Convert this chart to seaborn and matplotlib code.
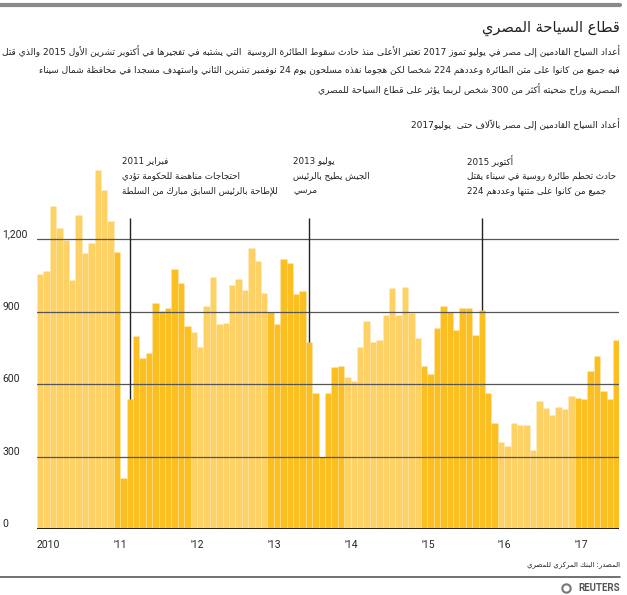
import re
import numpy as np
import pandas as pd
import matplotlib
matplotlib.use('Agg')
from matplotlib import pyplot as plt
from matplotlib.lines import Line2D
import seaborn as sns

# monthly tourist arrivals to Egypt, thousands (Jan 2010 - Jul 2017)
y2010 = [1055, 1070, 1340, 1247, 1199, 1031, 1303, 1144, 1185, 1488, 1406, 1276]
y2011 = [1150, 210, 538, 800, 708, 731, 936, 905, 915, 1079, 1019, 840]
y2012 = [818, 753, 926, 1046, 851, 853, 1010, 1037, 992, 1164, 1110, 979]
y2013 = [900, 851, 1119, 1102, 975, 986, 777, 563, 297, 563, 673, 676]
y2014 = [630, 612, 756, 860, 777, 784, 888, 998, 888, 1005, 895, 790]
y2015 = [677, 642, 835, 925, 901, 823, 915, 915, 805, 908, 563, 440]
y2016 = [362, 346, 440, 429, 430, 327, 529, 500, 472, 504, 497, 550]
y2017 = [541, 539, 656, 716, 572, 537, 782]
values = y2010 + y2011 + y2012 + y2013 + y2014 + y2015 + y2016 + y2017

year_labels = ['2010', "'11", "'12", "'13", "'14", "'15", "'16", "'17"]
ytick_vals = [0, 300, 600, 900, 1200]
ytick_labels = ['0', '300', '600', '900', '1,200']

title = 'قطاع السياحة المصري'
intro = ['أعداد السياح القادمين إلى مصر في يوليو تموز 2017 تعتبر الأعلى منذ حادث سقوط الطائرة الروسية  التي يشتبه في تفجيرها في أكتوبر تشرين الأول 2015 والذي قتل',
         'فيه جميع من كانوا على متن الطائرة وعددهم 224 شخصا لكن هجوما نفذه مسلحون يوم 24 نوفمبر تشرين الثاني واستهدف مسجدا في محافظة شمال سيناء',
         'المصرية وراح ضحيته أكثر من 300 شخص لربما يؤثر على قطاع السياحة للمصري']
unit_label = 'أعداد السياح القادمين إلى مصر بالآلاف حتى  يوليو2017'
source = 'المصدر: البنك المركزي للمصري'

# annotated months (index from Jan 2010) and their notes
event_month = [14, 42, 69]
event_notes = [['فبراير 2011', 'احتجاجات مناهضة للحكومة تؤدي', 'للإطاحة بالرئيس السابق مبارك من السلطة'],
               ['يوليو 2013', 'الجيش يطيح بالرئيس', 'مرسي'],
               ['أكتوبر 2015', 'حادث تحطم طائرة روسية في سيناء يقتل', 'جميع من كانوا على متنها وعددهم 224']]

LIGHT = '#FDD163'
DARK = '#FBBF22'

# --- tiny arabic shaping + right-to-left ordering (matplotlib does no shaping) ---
DUAL = {'ئ': 0xFE89, 'ب': 0xFE8F, 'ت': 0xFE95, 'ث': 0xFE99, 'ج': 0xFE9D, 'ح': 0xFEA1, 'خ': 0xFEA5,
        'س': 0xFEB1, 'ش': 0xFEB5, 'ص': 0xFEB9, 'ض': 0xFEBD, 'ط': 0xFEC1, 'ظ': 0xFEC5, 'ع': 0xFEC9,
        'غ': 0xFECD, 'ف': 0xFED1, 'ق': 0xFED5, 'ك': 0xFED9, 'ل': 0xFEDD, 'م': 0xFEE1, 'ن': 0xFEE5,
        'ه': 0xFEE9, 'ي': 0xFEF1}
RIGHT = {'آ': 0xFE81, 'أ': 0xFE83, 'ؤ': 0xFE85, 'إ': 0xFE87, 'ا': 0xFE8D, 'ة': 0xFE93, 'د': 0xFEA9,
         'ذ': 0xFEAB, 'ر': 0xFEAD, 'ز': 0xFEAF, 'و': 0xFEED, 'ى': 0xFEEF,
         '\uE001': 0xFEF5, '\uE002': 0xFEF7, '\uE003': 0xFEF9, '\uE004': 0xFEFB}
LAM_ALEF = {'آ': '\uE001', 'أ': '\uE002', 'إ': '\uE003', 'ا': '\uE004'}


def shape(s):
    chars = []
    i = 0
    while i < len(s):
        if s[i] == 'ل' and i + 1 < len(s) and s[i + 1] in LAM_ALEF:
            chars.append(LAM_ALEF[s[i + 1]])
            i += 2
        else:
            chars.append(s[i])
            i += 1
    out = []
    for i, c in enumerate(chars):
        prev = chars[i - 1] if i > 0 else ''
        nxt = chars[i + 1] if i + 1 < len(chars) else ''
        jp = prev in DUAL
        if c in DUAL:
            jn = nxt in DUAL or nxt in RIGHT
            k = 3 if (jp and jn) else 1 if jp else 2 if jn else 0
            out.append(chr(DUAL[c] + k))
        elif c in RIGHT:
            out.append(chr(RIGHT[c] + (1 if jp else 0)))
        else:
            out.append(c)
    return ''.join(out)


def ar(s):
    parts = re.split(r'([0-9][0-9,.]*)', shape(s))
    parts = [p if re.match(r'[0-9]', p) else p[::-1] for p in parts if p]
    return ''.join(parts[::-1])


df = pd.DataFrame({'month': range(len(values)), 'value': values})
df['shade'] = ['a' if (m // 12) % 2 == 0 else 'b' for m in df['month']]

sns.set_style('white')
plt.rcParams['font.family'] = ['DejaVu Sans']

fig = plt.figure(figsize=(6.27, 5.95), dpi=100)
ax = fig.add_axes([37 / 627, 66 / 595, 582.4 / 627, 374 / 595])

sns.barplot(data=df, x='month', y='value', hue='shade', palette={'a': LIGHT, 'b': DARK},
            dodge=False, width=1, errorbar=None, legend=False, saturation=1,
            edgecolor=(1, 1, 1, 0.2), linewidth=0.5, ax=ax)

ax.set_xlim(-0.5, len(values) - 0.5)
ax.set_ylim(0, 1550)
sns.despine(ax=ax, left=True, bottom=True)
ax.set_xlabel('')
ax.set_ylabel('')

for v in ytick_vals[1:]:
    ax.axhline(v, color='#555555', lw=0.9, zorder=3)
ax.axhline(0, color='black', lw=1.2, zorder=5)

ax.set_yticks(ytick_vals)
ax.set_yticklabels(ytick_labels)
ax.tick_params(axis='y', length=0, pad=25)
for lbl in ax.get_yticklabels():
    lbl.set_ha('left')
    lbl.set_va('bottom')
    lbl.set_fontfamily('Roboto')
    lbl.set_fontsize(7.5)

ax.set_xticks(np.arange(0, len(values), 12) - 0.5)
ax.set_xticklabels(year_labels)
ax.tick_params(axis='x', length=0, pad=8)
for lbl in ax.get_xticklabels():
    lbl.set_ha('left')
    lbl.set_fontfamily('Roboto')
    lbl.set_fontsize(7.5)

# event markers and notes
note_x = [12.8, 39.5, 66.7]
for m, notes, tx in zip(event_month, event_notes, note_x):
    ax.vlines(m, values[m], 1290, color='#222222', lw=1, zorder=4)
    for j, line in enumerate(notes):
        ax.text(tx, 1525 - 62 * j, ar(line), ha='left', va='center', fontsize=6.3,
                color='#222222', clip_on=False)

# header / footer
fig.add_artist(Line2D([0, 620 / 627], [1 - 5 / 595] * 2, color='#8a8a8a', lw=3))
fig.text(620 / 627, 1 - 28 / 595, ar(title), ha='right', va='center', fontsize=10.5, color='#222222')
for j, line in enumerate(intro):
    fig.text(620 / 627, 1 - (52 + 18.5 * j) / 595, ar(line), ha='right', va='center',
             fontsize=6.5, color='#222222')
fig.text(620 / 627, 1 - 125 / 595, ar(unit_label), ha='right', va='center', fontsize=6.5, color='#222222')

fig.text(620 / 627, 1 - 565 / 595, ar(source), ha='right', va='center', fontsize=5, color='#222222')
fig.add_artist(Line2D([0, 620 / 627], [1 - 577 / 595] * 2, color='#666666', lw=1.3))
fig.add_artist(Line2D([566 / 627], [1 - 588 / 595], marker='o', markersize=6, mfc='none',
                      mec='#777777', mew=1.5, ls='none'))
fig.text(620 / 627, 1 - 588 / 595, 'REUTERS', ha='right', va='center', fontsize=7,
         fontweight='bold', color='#555555', fontfamily='Roboto')

fig.savefig('out.png', dpi=100)
